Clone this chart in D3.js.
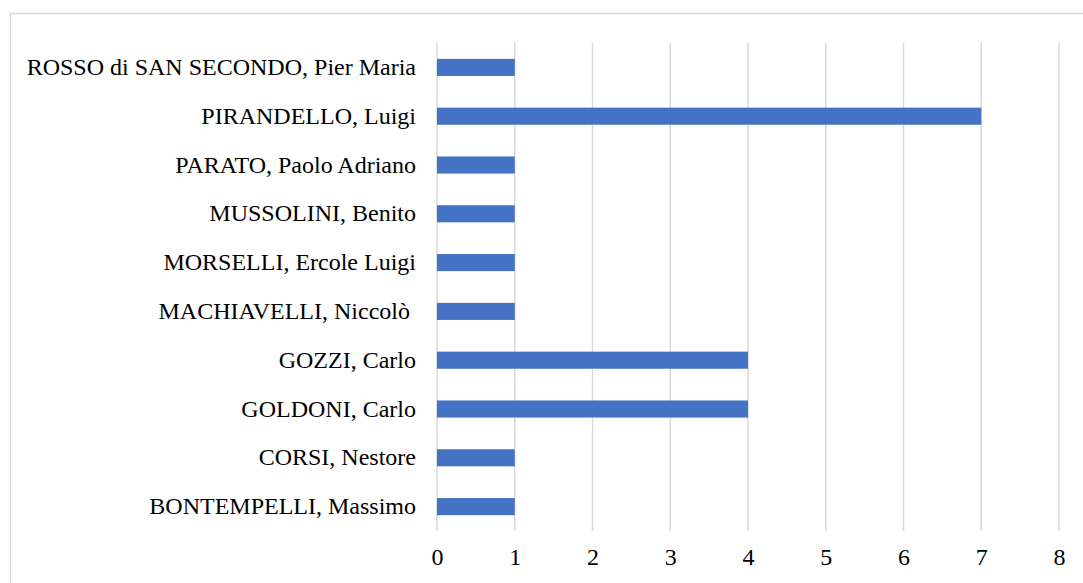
<!DOCTYPE html>
<html lang="it">
<head>
<meta charset="UTF-8">
<title>Autori</title>
<style>
  html, body { margin: 0; padding: 0; background: #fff; }
  svg text { font-family: "Liberation Serif", "Times New Roman", serif; fill: #000; }
</style>
</head>
<body>
<svg id="chart" width="1083" height="583"></svg>
<script src="https://cdnjs.cloudflare.com/ajax/libs/d3/7.8.5/d3.min.js"></script>
<script>
// categories top to bottom, as in the picture
let authors = [
  "ROSSO di SAN SECONDO, Pier Maria",
  "PIRANDELLO, Luigi",
  "PARATO, Paolo Adriano",
  "MUSSOLINI, Benito",
  "MORSELLI, Ercole Luigi",
  "MACHIAVELLI, Niccolò ",
  "GOZZI, Carlo",
  "GOLDONI, Carlo",
  "CORSI, Nestore",
  "BONTEMPELLI, Massimo"
];
let counts = [1, 7, 1, 1, 1, 1, 4, 4, 1, 1];
let xTicks = [0, 1, 2, 3, 4, 5, 6, 7, 8];

let margin = {top: 43, right: 24, bottom: 52, left: 437};
let width = 1083, height = 583;

let svg = d3.select("#chart");

// outer chart border (runs off the right and bottom of the frame)
svg.append("rect")
  .attr("x", 10.5).attr("y", 13.5)
  .attr("width", 1100).attr("height", 620)
  .attr("fill", "none")
  .attr("stroke", "#d9d9d9")
  .attr("stroke-width", 1.5);

let x = d3.scaleLinear()
  .domain([0, 8])
  .range([margin.left, width - margin.right]);

let y = d3.scaleBand()
  .domain(authors)
  .range([margin.top, height - margin.bottom])
  .paddingInner(0.65)
  .paddingOuter(0.325);

// vertical gridlines
svg.append("g")
  .selectAll("line")
  .data(xTicks)
  .join("line")
  .attr("x1", d => x(d)).attr("x2", d => x(d))
  .attr("y1", margin.top).attr("y2", height - margin.bottom)
  .attr("stroke", "#d9d9d9")
  .attr("stroke-width", 1.5);

// bars
svg.append("g")
  .selectAll("rect")
  .data(counts)
  .join("rect")
  .attr("x", x(0))
  .attr("y", (d, i) => y(authors[i]))
  .attr("width", d => x(d) - x(0))
  .attr("height", y.bandwidth())
  .attr("fill", "#4472c4");

// x axis labels
let xAxis = svg.append("g")
  .attr("transform", `translate(0,${height - margin.bottom})`)
  .call(d3.axisBottom(x).tickValues(xTicks).tickSize(0).tickPadding(17));
xAxis.select(".domain").remove();
xAxis.selectAll("text")
  .style("font-family", '"Liberation Serif", "Times New Roman", serif')
  .style("font-size", "24px")
  .attr("fill", "#000");

// y axis labels
let yAxis = svg.append("g")
  .attr("transform", `translate(${margin.left},0)`)
  .call(d3.axisLeft(y).tickSize(0).tickPadding(21));
yAxis.select(".domain").remove();
yAxis.selectAll("text")
  .style("font-family", '"Liberation Serif", "Times New Roman", serif')
  .style("font-size", "24px")
  .style("white-space", "pre")
  .attr("fill", "#000");
</script>
</body>
</html>
